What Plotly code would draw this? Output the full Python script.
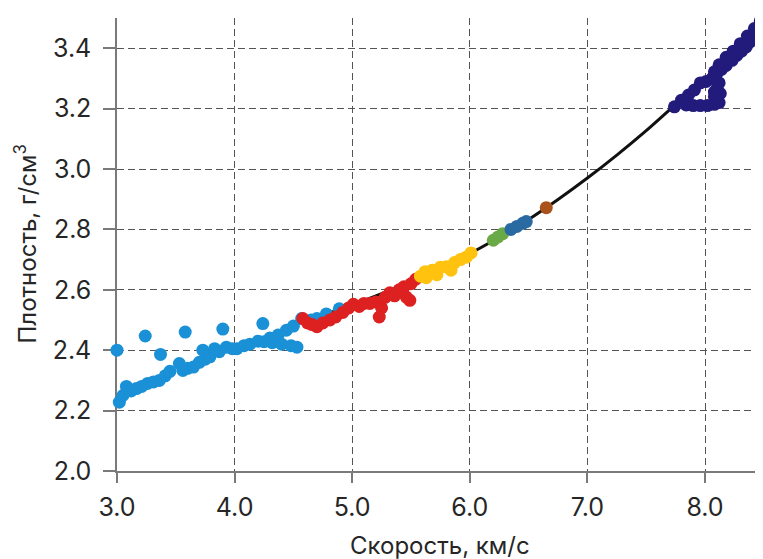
import plotly.graph_objects as go

# ---- data ----
curve_x = [4.55, 5.0, 5.5, 6.0, 6.25, 6.5, 6.75, 7.0, 7.25, 7.5, 7.75]
curve_y = [2.49, 2.55, 2.627, 2.720, 2.774, 2.833, 2.899, 2.970, 3.046, 3.127, 3.214]

blue_x = [3.00, 3.24, 3.58, 3.90, 3.37, 4.24,
          3.02, 3.05, 3.08, 3.12, 3.165, 3.21, 3.26, 3.31, 3.36, 3.41, 3.45, 3.53,
          3.56, 3.60, 3.65, 3.70, 3.73, 3.75, 3.79, 3.83, 3.87, 3.93, 3.98, 4.02,
          4.08, 4.13, 4.20, 4.30, 4.37, 4.44, 4.50, 4.57, 4.65, 4.70, 4.78, 4.89,
          4.25, 4.32, 4.40, 4.48, 4.53]
blue_y = [2.400, 2.447, 2.460, 2.470, 2.386, 2.488,
          2.228, 2.250, 2.280, 2.265, 2.273, 2.280, 2.290, 2.295, 2.300, 2.315, 2.330, 2.356,
          2.333, 2.340, 2.344, 2.360, 2.400, 2.370, 2.378, 2.405, 2.395, 2.410, 2.405, 2.405,
          2.415, 2.420, 2.430, 2.440, 2.450, 2.466, 2.480, 2.505, 2.500, 2.505, 2.520, 2.537,
          2.428, 2.425, 2.420, 2.415, 2.410]

red_x = [4.58, 4.62, 4.66, 4.70, 4.75, 4.81, 4.86, 4.92, 4.97, 5.01, 5.06, 5.10,
         5.15, 5.20, 5.23, 5.25, 5.28, 5.32, 5.36, 5.40, 5.44, 5.46, 5.49, 5.50, 5.54]
red_y = [2.505, 2.490, 2.485, 2.478, 2.490, 2.500, 2.510, 2.525, 2.540, 2.552, 2.545, 2.555,
         2.555, 2.560, 2.510, 2.540, 2.575, 2.590, 2.580, 2.600, 2.610, 2.576, 2.565, 2.620, 2.635]

yellow_x = [5.58, 5.62, 5.63, 5.68, 5.72, 5.75, 5.80, 5.84, 5.87, 5.92, 5.97, 6.01]
yellow_y = [2.645, 2.660, 2.640, 2.665, 2.650, 2.675, 2.676, 2.665, 2.690, 2.700, 2.708, 2.722]

green_x = [6.20, 6.24, 6.28]
green_y = [2.764, 2.775, 2.786]

steel_x = [6.35, 6.40, 6.45, 6.48]
steel_y = [2.800, 2.810, 2.820, 2.826]

brown_x = [6.65]
brown_y = [2.872]

navy_x = [7.74, 7.80, 7.86, 7.91, 7.96, 8.01,
          7.84, 7.90, 7.96, 8.02, 8.08, 8.12,
          8.08, 8.13, 8.10, 8.12, 8.06, 8.08, 8.09,
          8.10, 8.14, 8.18, 8.23, 8.27, 8.31, 8.35, 8.38, 8.41, 8.44, 8.47, 8.50,
          8.08, 8.12, 8.18, 8.24, 8.30, 8.36, 8.42, 8.47]
navy_y = [3.206, 3.228, 3.245, 3.262, 3.285, 3.290,
          3.212, 3.210, 3.210, 3.210, 3.214, 3.220,
          3.240, 3.250, 3.265, 3.285, 3.300, 3.255, 3.235,
          3.316, 3.330, 3.343, 3.360, 3.376, 3.390, 3.404, 3.420, 3.443, 3.455, 3.470, 3.480,
          3.322, 3.345, 3.370, 3.390, 3.415, 3.440, 3.465, 3.490]

x_ticks = [3.0, 4.0, 5.0, 6.0, 7.0, 8.0]
x_ticklabels = ["3.0", "4.0", "5.0", "6.0", "7.0", "8.0"]
y_ticks = [2.0, 2.2, 2.4, 2.6, 2.8, 3.0, 3.2, 3.4]
y_ticklabels = ["2.0", "2.2", "2.4", "2.6", "2.8", "3.0", "3.2", "3.4"]

FONT = "Inter, Liberation Sans, Arial, sans-serif"
TXT = "#262626"

fig = go.Figure()
fig.add_trace(go.Scatter(x=curve_x, y=curve_y, mode="lines",
                         line=dict(color="#111111", width=3, shape="spline", smoothing=0.8),
                         hoverinfo="skip", showlegend=False))

groups = [
    (blue_x, blue_y, "#1a90d6"),
    (red_x, red_y, "#dd2020"),
    (yellow_x, yellow_y, "#ffc20e"),
    (green_x, green_y, "#6aaa46"),
    (steel_x, steel_y, "#2a6aa2"),
    (brown_x, brown_y, "#a9521c"),
    (navy_x, navy_y, "#221b7c"),
]
for gx, gy, col in groups:
    fig.add_trace(go.Scatter(x=gx, y=gy, mode="markers", cliponaxis=False,
                             marker=dict(color=col, size=13, line=dict(width=0)),
                             showlegend=False))

axis_common = dict(
    showline=True, linecolor="#7a7a7a", linewidth=1.5,
    ticks="outside", tickcolor="#7a7a7a", tickwidth=1.5,
    showgrid=True, gridcolor="#555555", gridwidth=1, griddash="7px,4px",
    zeroline=False, layer="below traces", automargin=False,
    tickfont=dict(family=FONT, size=25, color=TXT),
)

fig.update_xaxes(range=[3.0, 8.493], tickvals=x_ticks, ticktext=x_ticklabels,
                 ticklen=10, ticklabelstandoff=3, **axis_common)
fig.update_yaxes(range=[2.0, 3.5], tickvals=y_ticks, ticktext=y_ticklabels,
                 ticklen=12, ticklabelstandoff=7, **axis_common)

# the page body adds an 8px offset, so the figure is sized to fill the rest of the window
fig.update_layout(
    width=755, height=551,
    margin=dict(l=109, r=0, t=10, b=88, autoexpand=False),
    paper_bgcolor="white", plot_bgcolor="white",
    font=dict(family=FONT, color=TXT),
    annotations=[
        dict(text="Скорость, км/с", xref="paper", yref="paper", x=0.5, y=0,
             xanchor="center", yanchor="middle", yshift=-74, showarrow=False,
             font=dict(family=FONT, size=24, color=TXT)),
        dict(text="Плотность, г/см<sup>3</sup>", xref="paper", yref="paper", x=0, y=0.5,
             xanchor="center", yanchor="middle", xshift=-92, textangle=-90, showarrow=False,
             font=dict(family=FONT, size=24, color=TXT)),
    ],
)

fig.write_html("out.html")
